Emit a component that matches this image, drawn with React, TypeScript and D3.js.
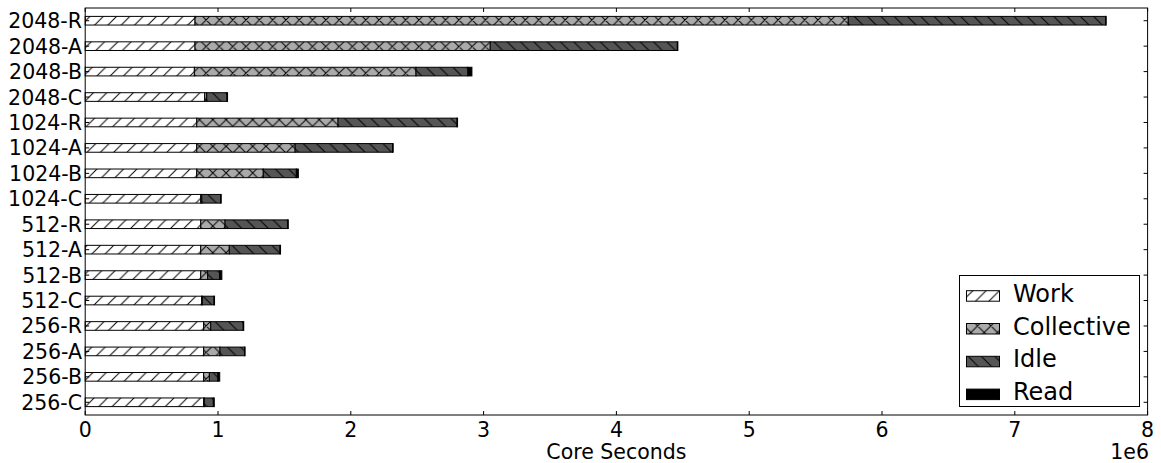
import React from 'react';
import * as d3 from 'd3';

// values in millions of core seconds (axis shows 1e6 offset)
const labels = ['2048-R', '2048-A', '2048-B', '2048-C', '1024-R', '1024-A', '1024-B', '1024-C',
  '512-R', '512-A', '512-B', '512-C', '256-R', '256-A', '256-B', '256-C'];
const work = [0.827, 0.827, 0.822, 0.9, 0.84, 0.84, 0.84, 0.87, 0.87, 0.87, 0.87, 0.877, 0.892, 0.892, 0.892, 0.892];
const collective = [4.919, 2.223, 1.669, 0.015, 1.064, 0.741, 0.501, 0.008, 0.183, 0.215, 0.052, 0.005, 0.053, 0.123, 0.043, 0.005];
const idle = [1.938, 1.409, 0.391, 0.153, 0.896, 0.734, 0.249, 0.142, 0.472, 0.382, 0.091, 0.088, 0.245, 0.185, 0.064, 0.068];
const read = [0.004, 0.004, 0.03, 0.004, 0.004, 0.004, 0.015, 0.004, 0.004, 0.004, 0.016, 0.004, 0.004, 0.004, 0.014, 0.007];
const xTicks = [0, 1, 2, 3, 4, 5, 6, 7, 8];

const keys = ['Work', 'Collective', 'Idle', 'Read'];
const fills: Record<string, string> = {
  Work: 'url(#hWork)',
  Collective: 'url(#hColl)',
  Idle: 'url(#hIdle)',
  Read: '#000',
};

const width = 1161;
const height = 463;
const left = 85.2;
const right = 1147.6;
const top = 8;
const bottom = 415;
const font = 'DejaVu Sans, sans-serif';
const s = 13.3; // hatch spacing
const fs = 20.5;

const App = () => {
  const rows = labels.map((l, i) => ({
    label: l, Work: work[i], Collective: collective[i], Idle: idle[i], Read: read[i],
  }));
  const series = d3.stack<any>().keys(keys)(rows);

  const x = d3.scaleLinear().domain([0, 8]).range([left, right]);
  const y = d3.scaleLinear().domain([-0.5, labels.length - 0.5]).range([top, bottom]);
  const barH = y(0.34) - y(0);

  return (
    <svg width={width} height={height} style={{ position: 'absolute', left: 0, top: 0, background: '#fff' }}
      fontFamily={font}>
      <defs>
        <pattern id="hWork" patternUnits="userSpaceOnUse" width={s} height={s}>
          <rect width={s} height={s} fill="#fff" />
          <path d={`M0,${s}L${s},0M-1,1L1,-1M${s - 1},${s + 1}L${s + 1},${s - 1}`} stroke="#000" strokeWidth={1} />
        </pattern>
        <pattern id="hIdle" patternUnits="userSpaceOnUse" width={s} height={s}>
          <rect width={s} height={s} fill="#555" />
          <path d={`M0,0L${s},${s}M-1,${s - 1}L1,${s + 1}M${s - 1},-1L${s + 1},1`} stroke="#000" strokeWidth={1} />
        </pattern>
        <pattern id="hColl" patternUnits="userSpaceOnUse" width={s} height={s}>
          <rect width={s} height={s} fill="#aaa" />
          <path d={`M0,${s}L${s},0M-1,1L1,-1M${s - 1},${s + 1}L${s + 1},${s - 1}M0,0L${s},${s}M-1,${s - 1}L1,${s + 1}M${s - 1},-1L${s + 1},1`}
            stroke="#000" strokeWidth={1} />
        </pattern>
      </defs>

      {/* bars */}
      {series.map(ser => (
        <g key={ser.key} fill={fills[ser.key]} stroke="#000" strokeWidth={1}>
          {ser.map((d, i) => (
            <rect key={i} x={x(d[0])} y={y(i) - barH / 2} width={Math.max(0, x(d[1]) - x(d[0]))} height={barH} />
          ))}
        </g>
      ))}

      {/* frame */}
      <rect x={left} y={top} width={right - left} height={bottom - top} fill="none" stroke="#000" strokeWidth={1} />

      {/* x ticks */}
      {xTicks.map(t => (
        <g key={t}>
          <line x1={x(t)} x2={x(t)} y1={bottom} y2={bottom - 4} stroke="#000" />
          <line x1={x(t)} x2={x(t)} y1={top} y2={top + 4} stroke="#000" />
          <text x={x(t)} y={436.5} fontSize={fs} textAnchor="middle">{t}</text>
        </g>
      ))}

      {/* y ticks */}
      {labels.map((l, i) => (
        <g key={l}>
          <line x1={left} x2={left + 4} y1={y(i)} y2={y(i)} stroke="#000" />
          <line x1={right} x2={right - 4} y1={y(i)} y2={y(i)} stroke="#000" />
          <text x={82} y={y(i) + 7.5} fontSize={fs} textAnchor="end">{l}</text>
        </g>
      ))}

      <text x={(left + right) / 2} y={458.5} fontSize={fs} textAnchor="middle">Core Seconds</text>
      <text x={1149} y={458.5} fontSize={fs} textAnchor="end">1e6</text>

      {/* legend */}
      <g>
        <rect x={959.5} y={275.5} width={180} height={131} fill="#fff" stroke="#000" strokeWidth={1} />
        {keys.map((k, i) => {
          const base = 301.7 + i * 32.8;
          return (
            <g key={k}>
              <rect x={966.5} y={base - 11} width={33} height={10.5} fill={fills[k]} stroke="#000" strokeWidth={1} />
              <text x={1013} y={base} fontSize={24}>{k}</text>
            </g>
          );
        })}
      </g>
    </svg>
  );
};

export default App;
